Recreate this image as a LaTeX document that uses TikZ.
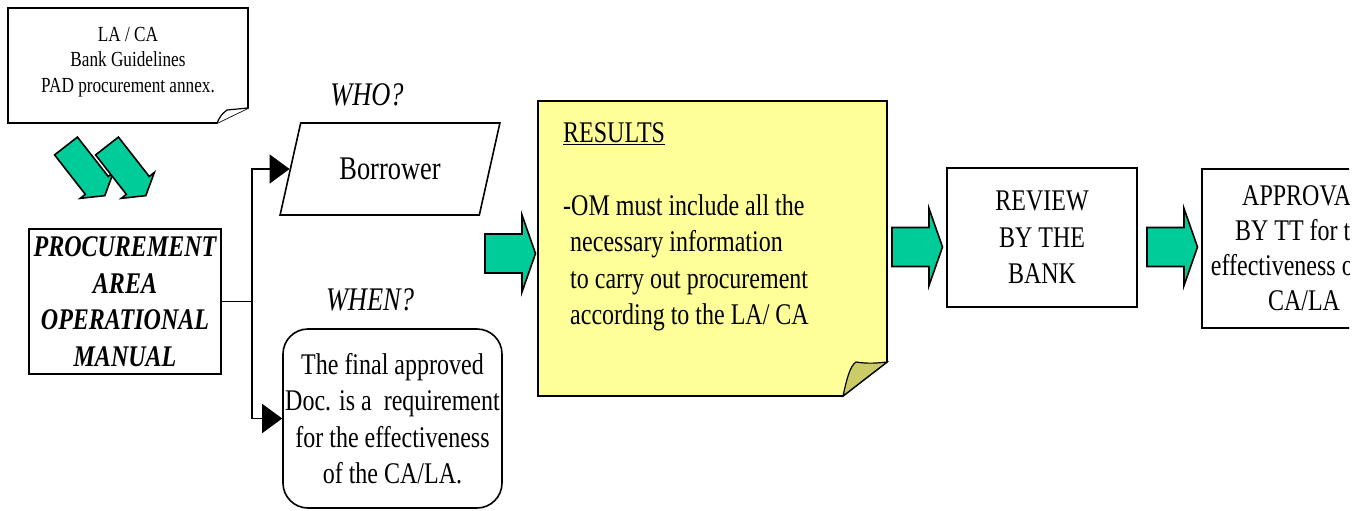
\documentclass[tikz,border=0pt]{standalone}
\usepackage{fontspec}
\setmainfont[FakeStretch=0.8]{Liberation Serif}
\usetikzlibrary{arrows.meta,shapes.geometric}

\definecolor{arrowgreen}{RGB}{0,204,153}
\definecolor{noteyellow}{RGB}{255,255,153}
\definecolor{notefold}{RGB}{204,204,102}

\newcommand{\bodyfont}{\fontsize{30}{36.5}\selectfont}
\newcommand{\docfont}{\fontsize{21.5}{25.5}\selectfont}
\newcommand{\askfont}{\fontsize{33}{38}\selectfont}

\tikzset{
  box/.style={draw, line width=1.6pt, inner sep=0pt, align=center},
  conn/.style={line width=1.6pt},
  tip/.style={-{Triangle[length=20pt,width=29pt]}},
  greenarrow/.style={draw, fill=arrowgreen, line width=1.6pt, line join=miter},
  blockarrow/.pic={
    \draw[greenarrow] (0,-19.5) -- (37,-19.5) -- (37,-38.5) -- (50.5,0)
      -- (37,38.5) -- (37,19.5) -- (0,19.5) -- cycle;
  },
  diagarrow/.pic={
    \draw[greenarrow] (0,-14.5) -- (50,-14.5) -- (50,-21) -- (63,0)
      -- (50,21) -- (50,14.5) -- (0,14.5) -- cycle;
  }
}

\begin{document}
\begin{tikzpicture}[x=1pt,y=-1pt]
    \useasboundingbox (0,0) rectangle (1363,511);

    % source documents
    \draw[line width=1.6pt, fill=white] (8,8) -- (248,8) -- (248,108) -- (217,123) -- (8,123) -- cycle;
    \draw[line width=1.2pt, fill=white] (217,123) .. controls (221,115) .. (227,110) -- (248,108);
    \node[font=\docfont, align=center] (docs) at (128,62) {LA / CA\\Bank Guidelines\\PAD procurement annex.};

    \pic[rotate=-52] at (66,146) {diagarrow};
    \pic[rotate=-52] at (107,146) {diagarrow};

    \node[box, minimum width=192, minimum height=145, font=\bodyfont\bfseries\itshape] (procman) at (125,301.5)
        {PROCUREMENT\\AREA\\OPERATIONAL\\MANUAL};

    % who and when
    \node[font=\askfont\itshape] (who) at (367,95) {WHO?};
    \node[draw, trapezium, trapezium left angle=62, trapezium right angle=118, trapezium stretches=true,
          minimum width=220, minimum height=92, line width=1.6pt, inner sep=0pt,
          font=\fontsize{33}{38}\selectfont] (borrower) at (390,169) {Borrower};
    \node[font=\askfont\itshape] (when) at (370,300) {WHEN?};
    \node[box, rounded corners=25pt, minimum width=219, minimum height=179, font=\bodyfont] (whenbox) at (392.5,418.5)
        {The final approved\\Doc. is a~ requirement\\for the effectiveness\\of the CA/LA.};

    \coordinate (split) at ([xshift=30pt]procman.east);
    \draw[conn] (procman.east) -- (split);
    \draw[conn, tip] (split) |- (borrower.west);
    \draw[conn, tip] (split) |- (whenbox.west);

    % results note
    \pic at (485,253.5) {blockarrow};
    \draw[line width=1.6pt, fill=noteyellow] (538,101) -- (887,101) -- (887,362) -- (843,396) -- (538,396) -- cycle;
    \draw[line width=1.2pt, fill=notefold] (843,396) .. controls (847,378) and (850,366) .. (856,362)
        .. controls (868,364) and (878,363) .. (887,362) -- cycle;
    \node[font=\bodyfont, align=left, anchor=west, inner sep=0pt] (results) at (563,227)
        {\underline{RESULTS}\\[36.5pt]
         -OM must include all the\\
         \hspace*{7pt}necessary information\\
         \hspace*{7pt}to carry out procurement\\
         \hspace*{7pt}according to the LA/ CA};

    % review and approval
    \pic at (892,247) {blockarrow};
    \node[box, minimum width=190, minimum height=139, font=\bodyfont] (review) at (1042,237.5) {REVIEW\\BY THE\\BANK};
    \pic at (1147,247) {blockarrow};
    \begin{scope}
        \clip (0,0) rectangle (1349,511);
        \node[box, minimum width=204, minimum height=159, font=\fontsize{30}{35}\selectfont] (approval) at (1304,248.5)
            {APPROVAL\\BY TT for the\\effectiveness of the\\CA/LA};
    \end{scope}
\end{tikzpicture}
\end{document}
